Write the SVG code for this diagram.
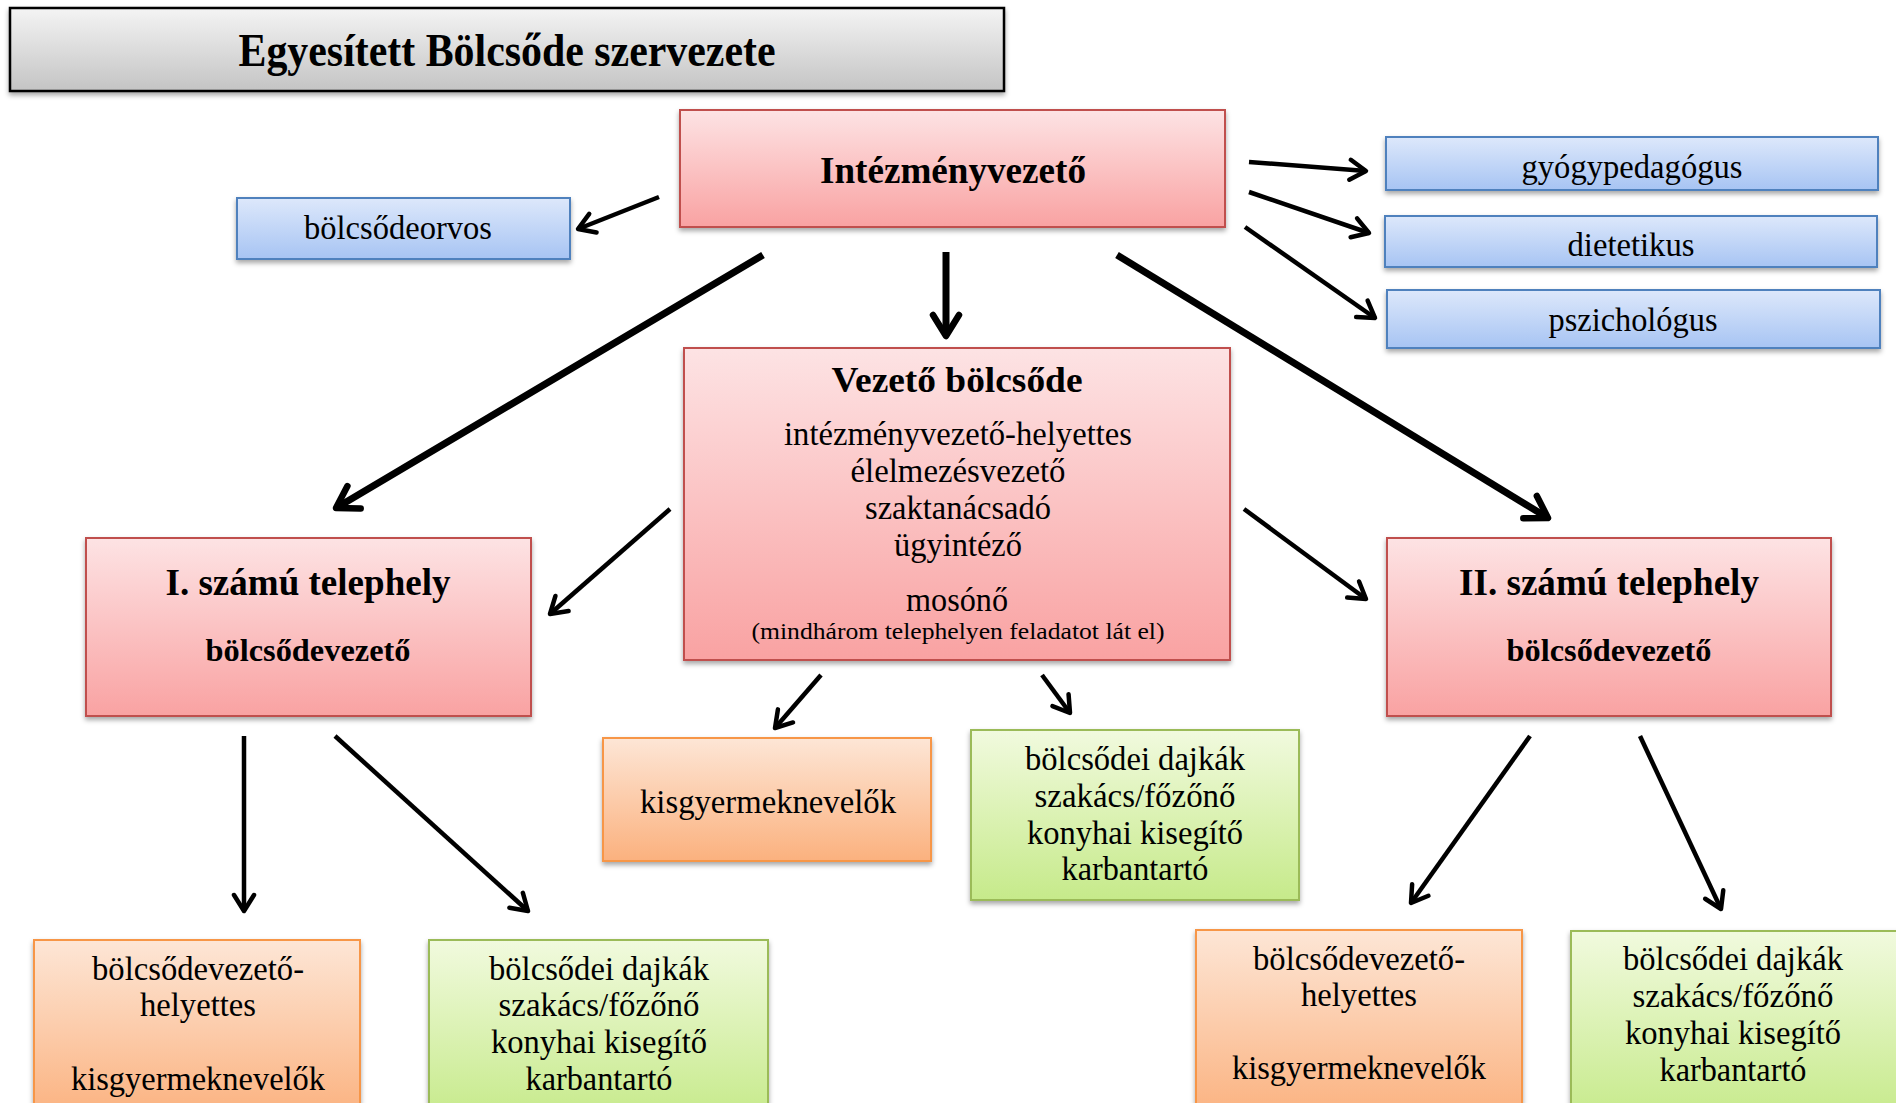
<svg xmlns="http://www.w3.org/2000/svg" width="1896" height="1103" viewBox="0 0 1896 1103">
<defs>
<linearGradient id="gGray" x1="0" y1="0" x2="0" y2="1"><stop offset="0" stop-color="#f4f4f4"/><stop offset="1" stop-color="#c4c4c4"/></linearGradient>
<linearGradient id="gPink" x1="0" y1="0" x2="0" y2="1"><stop offset="0" stop-color="#fde3e4"/><stop offset="1" stop-color="#f9a2a2"/></linearGradient>
<linearGradient id="gBlue" x1="0" y1="0" x2="0" y2="1"><stop offset="0" stop-color="#dde8fb"/><stop offset="1" stop-color="#a7c4f3"/></linearGradient>
<linearGradient id="gOrange" x1="0" y1="0" x2="0" y2="1"><stop offset="0" stop-color="#fde6d6"/><stop offset="1" stop-color="#fbb17e"/></linearGradient>
<linearGradient id="gGreen" x1="0" y1="0" x2="0" y2="1"><stop offset="0" stop-color="#f1fade"/><stop offset="1" stop-color="#c6ea8a"/></linearGradient>
<filter id="sh" x="-5%" y="-10%" width="110%" height="130%"><feDropShadow dx="0" dy="3" stdDeviation="2.5" flood-color="#000" flood-opacity="0.35"/></filter>
<marker id="ah" markerUnits="userSpaceOnUse" viewBox="0 0 26 26" markerWidth="26" markerHeight="26" refX="22" refY="13" orient="auto"><path d="M6,3 L22,13 L6,23" fill="none" stroke="#000" stroke-width="4.5" stroke-linecap="round" stroke-linejoin="round"/></marker>
<marker id="ahB" markerUnits="userSpaceOnUse" viewBox="0 0 34 34" markerWidth="34" markerHeight="34" refX="29" refY="17" orient="auto"><path d="M8,4 L29,17 L8,30" fill="none" stroke="#000" stroke-width="6.5" stroke-linecap="round" stroke-linejoin="round"/></marker>
<style>
.t{font-family:"Liberation Serif","Times New Roman",serif;fill:#000;text-anchor:middle}
.b{font-weight:bold}
.pink{fill:url(#gPink);stroke:#c0504d;stroke-width:2}
.blue{fill:url(#gBlue);stroke:#4f81bd;stroke-width:2}
.orange{fill:url(#gOrange);stroke:#f79646;stroke-width:2}
.green{fill:url(#gGreen);stroke:#9bbb59;stroke-width:2}
.thin{stroke:#000;stroke-width:4.5;fill:none;marker-end:url(#ah)}
.thick{stroke:#000;stroke-width:7;fill:none;marker-end:url(#ahB)}
</style>
</defs>
<rect width="1896" height="1103" fill="#fff"/>

<g id="title">
<rect x="10" y="8" width="994" height="83" fill="url(#gGray)" stroke="#000" stroke-width="2.5" filter="url(#sh)"/>
<text class="t b" x="507" y="66" font-size="46" textLength="537" lengthAdjust="spacingAndGlyphs">Egyesített Bölcsőde szervezete</text>
</g>

<g id="intezmenyvezeto">
<rect class="pink" x="680" y="110" width="545" height="117" filter="url(#sh)"/>
<text class="t b" x="953" y="183" font-size="38" textLength="266" lengthAdjust="spacingAndGlyphs">Intézményvezető</text>
</g>

<g id="bolcsodeorvos">
<rect class="blue" x="237" y="198" width="333" height="61" filter="url(#sh)"/>
<text class="t" x="398" y="239" font-size="34" textLength="188" lengthAdjust="spacingAndGlyphs">bölcsődeorvos</text>
</g>

<g id="gyogypedagogus">
<rect class="blue" x="1386" y="137" width="492" height="53" filter="url(#sh)"/>
<text class="t" x="1632" y="178" font-size="34" textLength="221" lengthAdjust="spacingAndGlyphs">gyógypedagógus</text>
</g>

<g id="dietetikus">
<rect class="blue" x="1385" y="216" width="492" height="51" filter="url(#sh)"/>
<text class="t" x="1631" y="256" font-size="34" textLength="127" lengthAdjust="spacingAndGlyphs">dietetikus</text>
</g>

<g id="pszichologus">
<rect class="blue" x="1387" y="290" width="493" height="58" filter="url(#sh)"/>
<text class="t" x="1633" y="331" font-size="34" textLength="169" lengthAdjust="spacingAndGlyphs">pszichológus</text>
</g>

<g id="vezeto-bolcsode">
<rect class="pink" x="684" y="348" width="546" height="312" filter="url(#sh)"/>
<text class="t b" x="957" y="392" font-size="36" textLength="251" lengthAdjust="spacingAndGlyphs">Vezető bölcsőde</text>
<text class="t" x="958" y="445" font-size="34" textLength="348" lengthAdjust="spacingAndGlyphs">intézményvezető-helyettes</text>
<text class="t" x="958" y="482" font-size="34" textLength="215" lengthAdjust="spacingAndGlyphs">élelmezésvezető</text>
<text class="t" x="958" y="519" font-size="34" textLength="186" lengthAdjust="spacingAndGlyphs">szaktanácsadó</text>
<text class="t" x="958" y="556" font-size="34" textLength="128" lengthAdjust="spacingAndGlyphs">ügyintéző</text>
<text class="t" x="957" y="611" font-size="34" textLength="102" lengthAdjust="spacingAndGlyphs">mosónő</text>
<text class="t" x="958" y="639" font-size="24" textLength="413" lengthAdjust="spacingAndGlyphs">(mindhárom telephelyen feladatot lát el)</text>
</g>

<g id="telephely-1">
<rect class="pink" x="86" y="538" width="445" height="178" filter="url(#sh)"/>
<text class="t b" x="308" y="595" font-size="37" textLength="285" lengthAdjust="spacingAndGlyphs">I. számú telephely</text>
<text class="t b" x="308" y="661" font-size="31" textLength="205" lengthAdjust="spacingAndGlyphs">bölcsődevezető</text>
</g>

<g id="telephely-2">
<rect class="pink" x="1387" y="538" width="444" height="178" filter="url(#sh)"/>
<text class="t b" x="1609" y="595" font-size="37" textLength="300" lengthAdjust="spacingAndGlyphs">II. számú telephely</text>
<text class="t b" x="1609" y="661" font-size="31" textLength="205" lengthAdjust="spacingAndGlyphs">bölcsődevezető</text>
</g>

<g id="kisgyermeknevelok-kozponti">
<rect class="orange" x="603" y="738" width="328" height="123" filter="url(#sh)"/>
<text class="t" x="768" y="813" font-size="34" textLength="256" lengthAdjust="spacingAndGlyphs">kisgyermeknevelők</text>
</g>

<g id="dajkak-kozponti">
<rect class="green" x="971" y="730" width="328" height="170" filter="url(#sh)"/>
<text class="t" x="1135" y="770" font-size="34" textLength="220" lengthAdjust="spacingAndGlyphs">bölcsődei dajkák</text>
<text class="t" x="1135" y="807" font-size="34" textLength="201" lengthAdjust="spacingAndGlyphs">szakács/főzőnő</text>
<text class="t" x="1135" y="844" font-size="34" textLength="216" lengthAdjust="spacingAndGlyphs">konyhai kisegítő</text>
<text class="t" x="1135" y="880" font-size="34" textLength="147" lengthAdjust="spacingAndGlyphs">karbantartó</text>
</g>

<g id="helyettes-1">
<rect class="orange" x="34" y="940" width="326" height="180" filter="url(#sh)"/>
<text class="t" x="198" y="980" font-size="34" textLength="212" lengthAdjust="spacingAndGlyphs">bölcsődevezető-</text>
<text class="t" x="198" y="1016" font-size="34" textLength="116" lengthAdjust="spacingAndGlyphs">helyettes</text>
<text class="t" x="198" y="1090" font-size="34" textLength="254" lengthAdjust="spacingAndGlyphs">kisgyermeknevelők</text>
</g>

<g id="dajkak-1">
<rect class="green" x="429" y="940" width="339" height="180" filter="url(#sh)"/>
<text class="t" x="599" y="980" font-size="34" textLength="220" lengthAdjust="spacingAndGlyphs">bölcsődei dajkák</text>
<text class="t" x="599" y="1016" font-size="34" textLength="201" lengthAdjust="spacingAndGlyphs">szakács/főzőnő</text>
<text class="t" x="599" y="1053" font-size="34" textLength="216" lengthAdjust="spacingAndGlyphs">konyhai kisegítő</text>
<text class="t" x="599" y="1090" font-size="34" textLength="147" lengthAdjust="spacingAndGlyphs">karbantartó</text>
</g>

<g id="helyettes-2">
<rect class="orange" x="1196" y="930" width="326" height="190" filter="url(#sh)"/>
<text class="t" x="1359" y="970" font-size="34" textLength="212" lengthAdjust="spacingAndGlyphs">bölcsődevezető-</text>
<text class="t" x="1359" y="1006" font-size="34" textLength="116" lengthAdjust="spacingAndGlyphs">helyettes</text>
<text class="t" x="1359" y="1079" font-size="34" textLength="254" lengthAdjust="spacingAndGlyphs">kisgyermeknevelők</text>
</g>

<g id="dajkak-2">
<rect class="green" x="1571" y="931" width="340" height="190" filter="url(#sh)"/>
<text class="t" x="1733" y="970" font-size="34" textLength="220" lengthAdjust="spacingAndGlyphs">bölcsődei dajkák</text>
<text class="t" x="1733" y="1007" font-size="34" textLength="201" lengthAdjust="spacingAndGlyphs">szakács/főzőnő</text>
<text class="t" x="1733" y="1044" font-size="34" textLength="216" lengthAdjust="spacingAndGlyphs">konyhai kisegítő</text>
<text class="t" x="1733" y="1081" font-size="34" textLength="147" lengthAdjust="spacingAndGlyphs">karbantartó</text>
</g>

<g id="connectors">
<line class="thin" x1="659" y1="197" x2="578" y2="229"/>
<line class="thin" x1="1249" y1="162" x2="1366" y2="171"/>
<line class="thin" x1="1249" y1="192" x2="1369" y2="233"/>
<line class="thin" x1="1245" y1="227" x2="1375" y2="318"/>
<line class="thick" x1="763" y1="255" x2="336" y2="508"/>
<line class="thick" x1="946" y1="252" x2="946" y2="336"/>
<line class="thick" x1="1117" y1="255" x2="1548" y2="518"/>
<line class="thin" x1="670" y1="509" x2="550" y2="614"/>
<line class="thin" x1="1244" y1="509" x2="1366" y2="599"/>
<line class="thin" x1="821" y1="675" x2="775" y2="728"/>
<line class="thin" x1="1042" y1="675" x2="1070" y2="713"/>
<line class="thin" x1="244" y1="736" x2="244" y2="911"/>
<line class="thin" x1="335" y1="736" x2="528" y2="911"/>
<line class="thin" x1="1530" y1="736" x2="1411" y2="903"/>
<line class="thin" x1="1640" y1="736" x2="1721" y2="909"/>
</g>
</svg>
